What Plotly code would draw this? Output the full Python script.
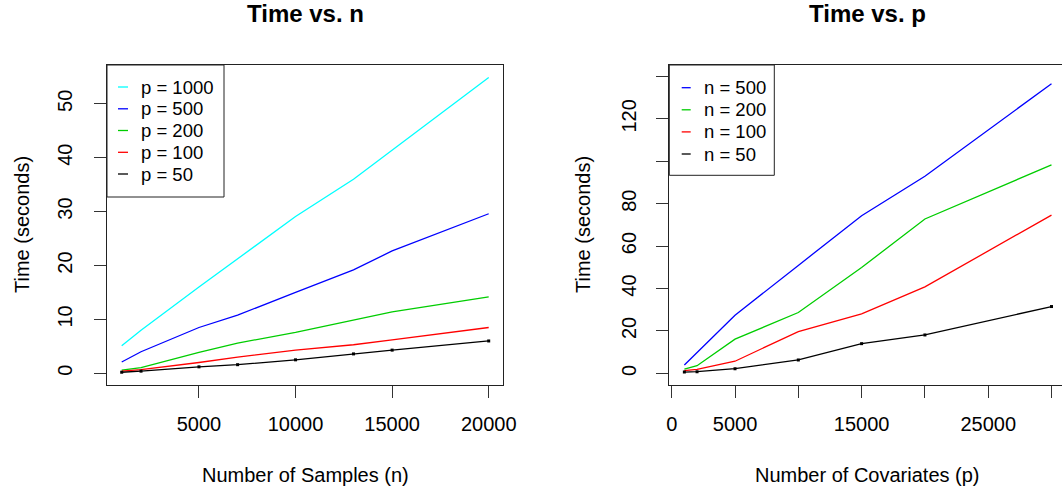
import plotly.graph_objects as go

W, H = 1062, 493

# ---- data: Time vs. n ----
n_values = [1000, 2000, 5000, 7000, 10000, 13000, 15000, 20000]
p_labels = ["p = 1000", "p = 500", "p = 200", "p = 100", "p = 50"]
p_colors = ["#00FFFF", "#0000FF", "#00CD00", "#FF0000", "#000000"]
time_p1000 = [5.1, 8.0, 16.0, 21.2, 29.1, 36.0, 41.4, 54.9]
time_p500 = [2.1, 4.0, 8.5, 10.8, 15.0, 19.2, 22.7, 29.6]
time_p200 = [0.6, 1.05, 3.9, 5.6, 7.6, 9.8, 11.4, 14.2]
time_p100 = [0.4, 0.7, 2.0, 3.0, 4.3, 5.3, 6.2, 8.5]
time_p50 = [0.2, 0.4, 1.2, 1.6, 2.5, 3.6, 4.3, 6.0]
left_series = [time_p1000, time_p500, time_p200, time_p100, time_p50]

# ---- data: Time vs. p ----
p_values = [1000, 2000, 5000, 10000, 15000, 20000, 30000]
n_labels = ["n = 500", "n = 200", "n = 100", "n = 50"]
n_colors = ["#0000FF", "#00CD00", "#FF0000", "#000000"]
time_n500 = [3.9, 9.8, 27.4, 50.9, 74.3, 92.9, 136.6]
time_n200 = [2.0, 3.6, 16.1, 28.7, 49.9, 72.8, 98.3]
time_n100 = [1.3, 1.9, 5.7, 19.7, 28.0, 40.8, 74.6]
time_n50 = [0.6, 0.8, 2.2, 6.3, 14.0, 18.1, 31.5]
right_series = [time_n500, time_n200, time_n100, time_n50]

left_xticks = [5000, 10000, 15000, 20000]
left_yticks = [0, 10, 20, 30, 40, 50]
right_xticks = [0, 5000, 10000, 15000, 20000, 25000, 30000]
right_xticktext = ["0", "5000", "", "15000", "", "25000", ""]
right_yticks = [0, 20, 40, 60, 80, 100, 120, 140]
right_yticktext = ["0", "20", "40", "60", "80", "", "120", ""]

FONT = "Liberation Sans, Arial, Helvetica, sans-serif"


def px(x):
    return x / W


def py(y):
    return 1 - y / H


fig = go.Figure()

for vals, name, col in zip(left_series, p_labels, p_colors):
    is_black = col == "#000000"
    fig.add_trace(go.Scatter(
        x=n_values, y=vals, name=name, xaxis="x", yaxis="y",
        mode="lines+markers" if is_black else "lines",
        line=dict(color=col, width=1.3),
        marker=dict(size=3, color=col, symbol="square"),
        showlegend=False,
    ))

for vals, name, col in zip(right_series, n_labels, n_colors):
    is_black = col == "#000000"
    fig.add_trace(go.Scatter(
        x=p_values, y=vals, name=name, xaxis="x2", yaxis="y2",
        mode="lines+markers" if is_black else "lines",
        line=dict(color=col, width=1.3),
        marker=dict(size=3, color=col, symbol="square"),
        showlegend=False,
    ))

# plot-box geometry (pixels)
L_x0, L_x1 = 107, 503
R_x0, R_x1 = 669.3, 1062
B_y0, B_y1 = 65, 385

axis_common = dict(
    showgrid=False, zeroline=False, showline=True, linecolor="#222",
    linewidth=1, ticks="outside", ticklen=12, tickcolor="#333", tickwidth=1,
    tickfont=dict(family=FONT, size=20, color="#000"),
    fixedrange=True, automargin=False,
)

fig.update_layout(
    width=W, height=H, autosize=False,
    margin=dict(l=0, r=0, t=0, b=0, pad=0),
    paper_bgcolor="white", plot_bgcolor="white",
    font=dict(family=FONT, color="#000"),
    xaxis=dict(domain=[px(L_x0), px(L_x1)], range=[239, 20740],
               tickvals=left_xticks, ticktext=[str(v) for v in left_xticks],
               mirror=True, anchor="y", ticklabelstandoff=9, **axis_common),
    yaxis=dict(domain=[py(B_y1), py(B_y0)], range=[-2.17, 57.2],
               tickvals=left_yticks, ticktext=[str(v) for v in left_yticks],
               tickangle=-90, mirror=True, anchor="x", ticklabelstandoff=14,
               **axis_common),
    xaxis2=dict(domain=[px(R_x0), px(R_x1)], range=[-190, 30829],
                tickvals=right_xticks, ticktext=right_xticktext,
                mirror=True, anchor="y2", ticklabelstandoff=9, **axis_common),
    yaxis2=dict(domain=[py(B_y1), py(B_y0)], range=[-5.5, 145.4],
                tickvals=right_yticks, ticktext=right_yticktext,
                tickangle=-90, mirror=False, anchor="x2", ticklabelstandoff=12,
                **axis_common),
)

ann = []
shapes = []

# titles
ann.append(dict(text="<b>Time vs. n</b>", x=px((L_x0 + L_x1) / 2), y=py(14),
                xref="paper", yref="paper", showarrow=False,
                font=dict(family=FONT, size=24), xanchor="center", yanchor="middle"))
ann.append(dict(text="<b>Time vs. p</b>", x=px(867.5), y=py(14),
                xref="paper", yref="paper", showarrow=False,
                font=dict(family=FONT, size=24), xanchor="center", yanchor="middle"))
# axis titles
ann.append(dict(text="Number of Samples (n)", x=px((L_x0 + L_x1) / 2), y=py(475),
                xref="paper", yref="paper", showarrow=False,
                font=dict(family=FONT, size=20), xanchor="center", yanchor="middle"))
ann.append(dict(text="Number of Covariates (p)", x=px(867.5), y=py(475),
                xref="paper", yref="paper", showarrow=False,
                font=dict(family=FONT, size=20), xanchor="center", yanchor="middle"))
ann.append(dict(text="Time (seconds)", x=px(22), y=py((B_y0 + B_y1) / 2),
                xref="paper", yref="paper", showarrow=False, textangle=-90,
                font=dict(family=FONT, size=20), xanchor="center", yanchor="middle"))
ann.append(dict(text="Time (seconds)", x=px(583), y=py((B_y0 + B_y1) / 2),
                xref="paper", yref="paper", showarrow=False, textangle=-90,
                font=dict(family=FONT, size=20), xanchor="center", yanchor="middle"))


def add_legend(x0, x1, y0, y1, rows, labels, colors, sx0, sx1, tx):
    shapes.append(dict(type="rect", xref="paper", yref="paper",
                       x0=px(x0), x1=px(x1), y0=py(y1), y1=py(y0),
                       line=dict(color="#222", width=1), fillcolor="white"))
    for ry, lab, col in zip(rows, labels, colors):
        shapes.append(dict(type="line", xref="paper", yref="paper",
                           x0=px(sx0), x1=px(sx1), y0=py(ry), y1=py(ry),
                           line=dict(color=col, width=1.3)))
        ann.append(dict(text=lab, x=px(tx), y=py(ry), xref="paper", yref="paper",
                        showarrow=False, xanchor="left", yanchor="middle",
                        font=dict(family=FONT, size=18.5)))


add_legend(107, 224, 65, 197, [87, 108.8, 130.5, 152.3, 174], p_labels, p_colors,
           118, 128, 139)
add_legend(669.3, 774.3, 65, 175.3, [87.7, 109.8, 131.9, 154], n_labels, n_colors,
           681.7, 690.7, 701.5)

fig.update_layout(annotations=ann, shapes=shapes)

fig.write_html(
    "out.html",
    config={"responsive": False, "displayModeBar": False},
    post_script="document.body.style.margin='0px';",
)
